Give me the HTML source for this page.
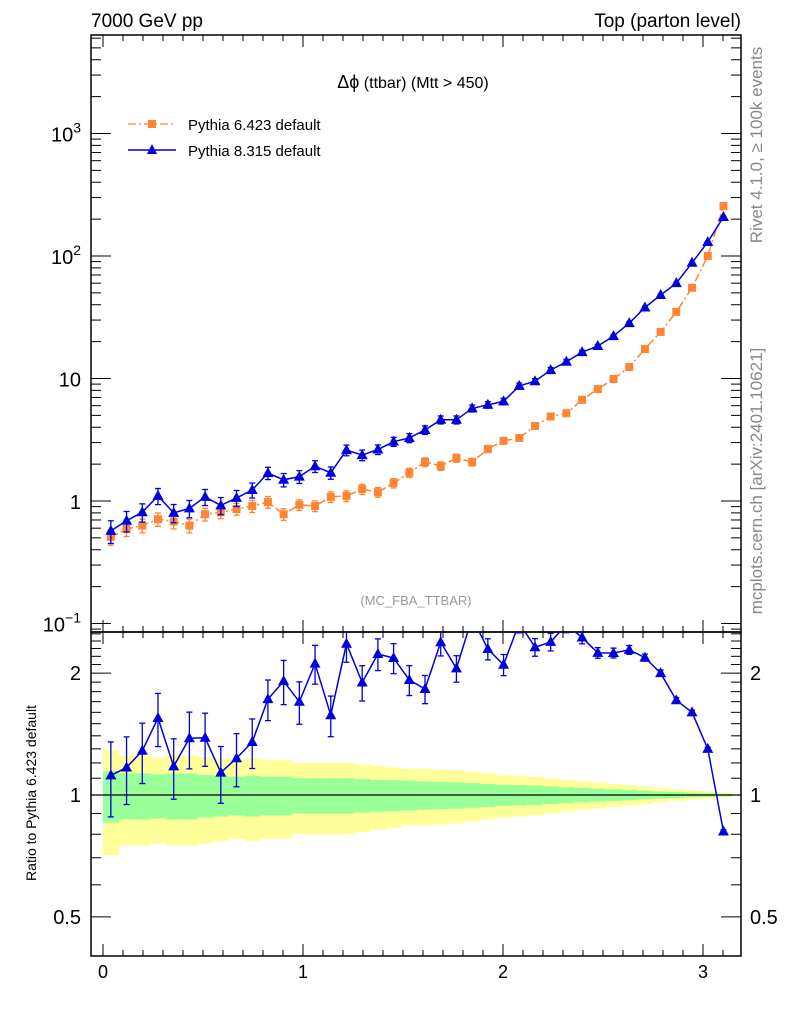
<!DOCTYPE html>
<html><head><meta charset="utf-8"><style>
html,body{margin:0;padding:0;background:#fff;}
svg{display:block;font-family:"Liberation Sans",sans-serif;}
</style></head><body>
<svg id="c" width="786" height="1024" viewBox="0 0 786 1024" xmlns="http://www.w3.org/2000/svg">
<defs>
<clipPath id="mainClip"><rect x="91" y="35" width="650" height="597"/></clipPath>
<clipPath id="ratioClip"><rect x="91" y="632" width="650" height="324"/></clipPath>
</defs>
<text x="91" y="27" font-size="19">7000 GeV pp</text>
<text x="741" y="27" font-size="19" text-anchor="end">Top (parton level)</text>
<text x="413" y="88" font-size="16" text-anchor="middle"><tspan font-size="18">Δϕ</tspan> (ttbar) (Mtt &gt; 450)</text>
<text x="416" y="605" font-size="13" fill="#999" text-anchor="middle">(MC_FBA_TTBAR)</text>
<text transform="translate(762,145) rotate(-90)" font-size="17" fill="#888" text-anchor="middle">Rivet 4.1.0, ≥ 100k events</text>
<text transform="translate(762,481) rotate(-90)" font-size="17" fill="#888" text-anchor="middle">mcplots.cern.ch [arXiv:2401.10621]</text>
<text transform="translate(36,793) rotate(-90)" font-size="14" text-anchor="middle">Ratio to Pythia 6.423 default</text>
<g>
<g>
<line x1="128" y1="124" x2="176" y2="124" stroke="#ff8533" stroke-width="1.3" stroke-dasharray="8,3,2,3"/>
<rect x="148" y="120" width="8" height="8" fill="#ff8533"/>
<text x="188" y="130" font-size="15">Pythia 6.423 default</text></g>
<g>
<line x1="128" y1="150" x2="176" y2="150" stroke="#0000dd" stroke-width="1.5"/>
<path d="M152,144 L157,154 L147,154 Z" fill="#0000dd"/>
<text x="188" y="156" font-size="15">Pythia 8.315 default</text></g>
</g>
<g id="bands" clip-path="url(#ratioClip)"></g>
<g id="axes"></g>
<g id="series"></g>
</svg>
<script>
const pyth6 = [0.51,0.59,0.63,0.71,0.68,0.63,0.78,0.81,0.86,0.91,0.98,0.78,0.93,0.91,1.08,1.10,1.25,1.18,1.40,1.70,2.08,1.93,2.24,2.08,2.66,3.1,3.27,4.1,4.9,5.2,6.7,8.2,9.9,12.4,17.4,24,35,55,100,256];
const pyth8 = [0.57,0.69,0.81,1.10,0.80,0.87,1.08,0.92,1.06,1.23,1.69,1.49,1.58,1.92,1.70,2.6,2.37,2.63,3.05,3.27,3.8,4.6,4.6,5.7,6.1,6.5,8.7,9.5,11.7,13.7,16.4,18.4,22.2,28.3,38,48,60,88,130,208];
const err6 = [0.145,0.13,0.13,0.125,0.13,0.13,0.12,0.115,0.11,0.115,0.11,0.11,0.1,0.1,0.1,0.1,0.095,0.09,0.088,0.085,0.08,0.078,0.075,0.07,0.065,0.06,0.058,0.055,0.05,0.045,0.04,0.037,0.033,0.03,0.025,0.02,0.017,0.013,0.01,0.007];
const errTot6 = [0.29,0.25,0.25,0.24,0.25,0.25,0.24,0.23,0.22,0.23,0.22,0.22,0.2,0.2,0.2,0.2,0.19,0.18,0.17,0.16,0.16,0.155,0.15,0.14,0.13,0.12,0.115,0.11,0.1,0.09,0.08,0.074,0.066,0.058,0.05,0.04,0.033,0.026,0.02,0.012];
const err8 = [0.21,0.19,0.17,0.15,0.17,0.16,0.15,0.16,0.15,0.14,0.115,0.125,0.12,0.11,0.115,0.1,0.1,0.09,0.085,0.085,0.08,0.075,0.075,0.065,0.06,0.06,0.055,0.05,0.05,0.045,0.035,0.03,0.028,0.025,0.02,0.018,0.015,0.012,0.01,0.01];
const xTicks = [0,1,2,3];
const mainYTicks = [["10","3"],["10","2"],["10",""],["1",""],["10","−1"]];
const ratioTicks = ["2","1","0.5"];

const NS="http://www.w3.org/2000/svg";
const svg=document.getElementById('c');
const L=91,R=741,T=35,M=632,B=956;
const nb=pyth6.length, xmax=Math.PI;
const X=v=>103+200*v;
const Ym=v=>501-122.5*Math.log10(v);
const Yr=v=>795-405*Math.log10(v);
function el(tag,attrs,parent){const e=document.createElementNS(NS,tag);for(const k in attrs)e.setAttribute(k,attrs[k]);parent.appendChild(e);return e;}
const axes=document.getElementById('axes'), series=document.getElementById('series'), bands=document.getElementById('bands');

for(let i=0;i<nb;i++){
  const x0=X(i*xmax/nb), x1=X((i+1)*xmax/nb);
  const y=el('rect',{x:x0,y:Yr(1+errTot6[i]),width:x1-x0+0.5,height:Yr(1-errTot6[i])-Yr(1+errTot6[i]),fill:'#ffff99'},bands);
  
  
  const g=el('rect',{x:x0,y:Yr(1+err6[i]),width:x1-x0+0.5,height:Yr(1-err6[i])-Yr(1+err6[i]),fill:'#99ff99'},bands);
  
  
}
const one=el('line',{x1:L,x2:R,y1:Yr(1),y2:Yr(1),stroke:'#000','stroke-width':1.2},bands);



const f1=el('rect',{x:L,y:T,width:R-L,height:M-T,fill:'none',stroke:'#000','stroke-width':1.5},axes);


const f2=el('rect',{x:L,y:M,width:R-L,height:B-M,fill:'none',stroke:'#000','stroke-width':1.5},axes);



for(let k=0;k<=31;k++){
  const v=k/10, x=X(v); if(x<L||x>R) continue;
  const major=k%10===0, len=major?12:6;
  [[T,1],[M,-1],[M,1],[B,-1]].forEach(([y0,d])=>{el('line',{x1:x,x2:x,y1:y0,y2:y0+d*len,stroke:'#000','stroke-width':1},axes);});
}
xTicks.forEach(v=>{const t=el('text',{x:X(v),y:978,'font-size':18,'text-anchor':'middle'},axes);t.textContent=String(v);

});

for(let d=-2;d<=3;d++){for(let m=1;m<=9;m++){
  const v=m*Math.pow(10,d), y=Ym(v); if(y<T||y>M) continue;
  const len=m===1?20:10;
  el('line',{x1:L,x2:L+len,y1:y,y2:y,stroke:'#000','stroke-width':1},axes);
  el('line',{x1:R,x2:R-len,y1:y,y2:y,stroke:'#000','stroke-width':1},axes);
}}
[3,2,1,0,-1].forEach((d,i)=>{
  const t=el('text',{x:81,y:Ym(Math.pow(10,d))+8,'font-size':20,'text-anchor':'end'},axes);
  
  
  const [b,e]=mainYTicks[i];
  if(e){const s1=document.createElementNS(NS,'tspan');s1.textContent=b;t.appendChild(s1);
    const s2=document.createElementNS(NS,'tspan');s2.setAttribute('dy','-9');s2.setAttribute('font-size','14');s2.textContent=e;t.appendChild(s2);}
  else t.textContent=b;
});

for(let k=4;k<=25;k++){
  const v=k/10, y=Yr(v); if(y<M||y>B) continue;
  const major=(k===5||k===10||k===20), len=major?20:10;
  el('line',{x1:L,x2:L+len,y1:y,y2:y,stroke:'#000','stroke-width':1},axes);
  el('line',{x1:R,x2:R-len,y1:y,y2:y,stroke:'#000','stroke-width':1},axes);
}
ratioTicks.forEach(s=>{const v=parseFloat(s);
  const a=el('text',{x:81,y:Yr(v)+7,'font-size':20,'text-anchor':'end'},axes);a.textContent=s;
  
  
  const b=el('text',{x:750,y:Yr(v)+7,'font-size':20},axes);b.textContent=s;
  
  
});

const gm=el('g',{'clip-path':'url(#mainClip)'},series);
const gr=el('g',{'clip-path':'url(#ratioClip)'},series);
const cx=i=>X((i+0.5)*xmax/nb);
function drawSeries(vals,errs,color,dash,marker,name){
  const pts=vals.map((v,i)=>cx(i)+','+Ym(v)).join(' ');
  const pl=el('polyline',{points:pts,fill:'none',stroke:color,'stroke-width':1.5,'stroke-dasharray':dash},gm);
  
  
  vals.forEach((v,i)=>{
    const x=cx(i), y1=Ym(v*(1+errs[i])), y2=Ym(v*(1-errs[i]));
    el('line',{x1:x,x2:x,y1:y1,y2:y2,stroke:color,'stroke-width':1.3},gm);
    el('line',{x1:x-3,x2:x+3,y1:y1,y2:y1,stroke:color,'stroke-width':1.3},gm);
    el('line',{x1:x-3,x2:x+3,y1:y2,y2:y2,stroke:color,'stroke-width':1.3},gm);
    const y=Ym(v); let mk;
    if(marker==='sq') mk=el('rect',{x:x-4,y:y-4,width:8,height:8,fill:color},gm);
    else mk=el('path',{d:`M${x},${y-6} L${x+5.5},${y+4} L${x-5.5},${y+4} Z`,fill:color},gm);
    
    
  });
}
drawSeries(pyth6,err6,'#ff8533','8,3,2,3','sq','pythia6');
drawSeries(pyth8,err8,'#0000dd','','tri','pythia8');

const ratio=pyth8.map((v,i)=>v/pyth6[i]);
const rl=el('polyline',{points:ratio.map((r,i)=>cx(i)+','+Yr(r)).join(' '),fill:'none',stroke:'#0000dd','stroke-width':1.5},gr);


ratio.forEach((r,i)=>{
  const x=cx(i), y1=Yr(r*(1+err8[i])), y2=Yr(r*(1-err8[i])), y=Yr(r);
  el('line',{x1:x,x2:x,y1:y1,y2:y2,stroke:'#0000dd','stroke-width':1.3},gr);
  el('line',{x1:x-3,x2:x+3,y1:y1,y2:y1,stroke:'#0000dd','stroke-width':1.3},gr);
  el('line',{x1:x-3,x2:x+3,y1:y2,y2:y2,stroke:'#0000dd','stroke-width':1.3},gr);
  if(y<M) return;
  const mk=el('path',{d:`M${x},${y-6} L${x+5.5},${y+4} L${x-5.5},${y+4} Z`,fill:'#0000dd'},gr);
  
  
});
</script>
</body></html>
